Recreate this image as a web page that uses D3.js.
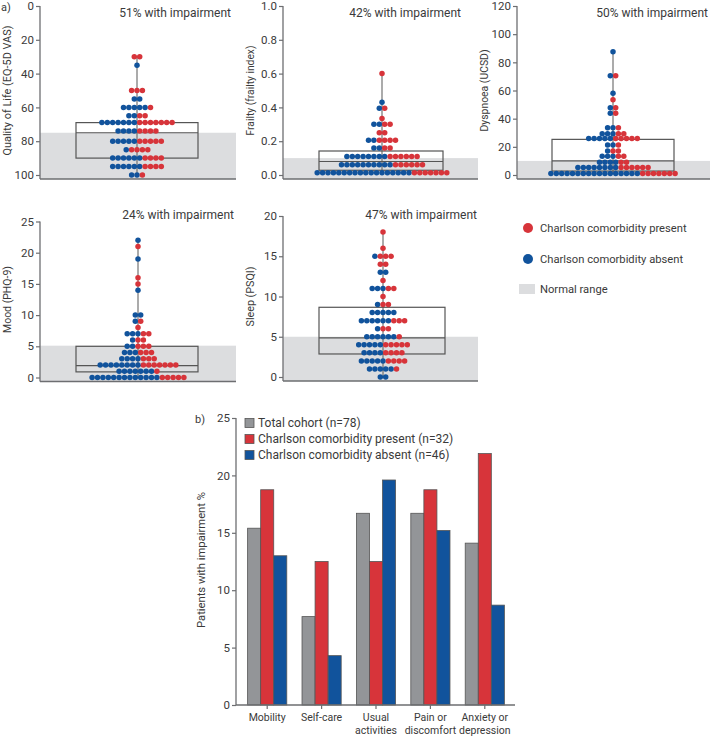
<!DOCTYPE html>
<html><head><meta charset="utf-8">
<script src="https://cdn.jsdelivr.net/npm/d3@7"></script>
<style>
body{margin:0;background:#fff;}
text{font-family:Roboto,"DejaVu Sans",sans-serif;}
</style>
</head><body>
<svg id="c" width="710" height="736"></svg>
<script>
// ---------- Data (a) beeswarm rows: value, count absent (blue), count present (red)
const qolRows  = [30,35,50,55,60,65,69,74,80,85,90,95,100];
const qolBlue  = [0,1,0,2,5,2,7,4,5,1,6,6,2];
const qolRed   = [2,0,3,0,1,2,7,4,5,4,4,4,1];
const qolBox   = [69,75,90];
const qolNormal = [75,100];

const frailRows = [0.013,0.06,0.11,0.16,0.205,0.25,0.30,0.335,0.395,0.43,0.60];
const frailBlue = [18,10,8,2,2,0,2,0,1,1,0];
const frailRed  = [7,6,6,2,4,2,2,1,1,0,1];
const frailBox  = [0.028,0.08,0.142];
const frailNormal = [0,0.1];

const dysRows = [1,5.4,9,13.3,17,21.3,26,29.3,33.6,43.8,47.8,53.5,58,70.5,87.5];
const dysBlue = [17,8,4,3,1,2,5,3,2,1,1,0,1,1,1];
const dysRed  = [7,6,2,2,2,1,5,2,1,1,1,1,0,1,0];
const dysBox  = [2.8,10,25.3];
const dysNormal = [0,10];

const moodRows = [0,1,2,3,4,5,6,7,8,9,10,14,15,16,19,21,22];
const moodBlue = [13,7,8,4,3,2,1,3,0,1,2,1,0,0,1,0,1];
const moodRed  = [5,1,7,3,3,3,2,2,1,1,0,0,1,1,0,1,0];
const moodBox  = [0.9,1.9,5.0];
const moodNormal = [0,5.1];

const sleepRows = [0,1,2,3,4,5,6,7,8,9,10,11,12,13,14,15,16,18];
const sleepBlue = [2,5,5,4,5,6,1,6,5,1,0,3,0,2,0,1,0,0];
const sleepRed  = [0,1,4,4,5,1,2,3,0,2,1,2,1,0,2,3,1,1];
const sleepBox  = [2.86,4.85,8.66];
const sleepNormal = [0,5];

const panelLabels = ["Quality of Life (EQ-5D VAS)","Frailty (frailty index)","Dyspnoea (UCSD)","Mood (PHQ-9)","Sleep (PSQI)"];
const panelPct = ["51% with impairment","42% with impairment","50% with impairment","24% with impairment","47% with impairment"];
const qolTicks = [0,20,40,60,80,100];
const frailTicks = [0,0.2,0.4,0.6,0.8,1.0];
const dysTicks = [0,20,40,60,80,100,120];
const moodTicks = [0,5,10,15,20,25];
const sleepTicks = [0,5,10,15,20];

// ---------- Data (b)
const categories = ["Mobility","Self-care","Usual activities","Pain or discomfort","Anxiety or depression"];
const categoryLines = [["Mobility"],["Self-care"],["Usual","activities"],["Pain or","discomfort"],["Anxiety or","depression"]];
const seriesNames = ["Total cohort (n=78)","Charlson comorbidity present (n=32)","Charlson comorbidity absent (n=46)"];
const totalCohort   = [15.4,7.7,16.7,16.7,14.1];
const comorbPresent = [18.75,12.5,12.5,18.75,21.9];
const comorbAbsent  = [13.0,4.3,19.6,15.2,8.7];
const barTicks = [0,5,10,15,20,25];

// ---------- Styles
const RED = "#d7343a", BLUE = "#11539c", GREY = "#939598", BAND = "#dcdddf";
const AX = "#6d6e71", TXT = "#3a3a3a";

const svg = d3.select("#c");

const panels = [
  {rows:qolRows, blue:qolBlue, red:qolRed, box:qolBox, normal:qolNormal, ticks:qolTicks, fmt:d3.format("d"),
   domain:[0,100], range:[6,175], ax:40, right:236, bottom:179, cx:137, boxL:76, boxR:198, pctX:231, pctY:17, labLen:130},
  {rows:frailRows, blue:frailBlue, red:frailRed, box:frailBox, normal:frailNormal, ticks:frailTicks, fmt:d3.format(".1f"),
   domain:[0,1], range:[175,6], ax:283, right:478, bottom:179, cx:382, boxL:319, boxR:443, pctX:461, pctY:17, labLen:90},
  {rows:dysRows, blue:dysBlue, red:dysRed, box:dysBox, normal:dysNormal, ticks:dysTicks, fmt:d3.format("d"),
   domain:[0,120], range:[175,6], ax:517, right:710, bottom:179, cx:613, boxL:552, boxR:674, pctX:708, pctY:17, labLen:82},
  {rows:moodRows, blue:moodBlue, red:moodRed, box:moodBox, normal:moodNormal, ticks:moodTicks, fmt:d3.format("d"),
   domain:[0,25], range:[377.5,221.5], ax:40, right:236, bottom:381.5, cx:138, boxL:76, boxR:198, pctX:234, pctY:219, labLen:67},
  {rows:sleepRows, blue:sleepBlue, red:sleepRed, box:sleepBox, normal:sleepNormal, ticks:sleepTicks, fmt:d3.format("d"),
   domain:[0,20], range:[377,216], ax:283, right:478, bottom:381, cx:383, boxL:319, boxR:445, pctX:477, pctY:219, labLen:60}
];

const STEP = 5.4, R = 2.75;

panels.forEach((p, pi) => {
  const y = d3.scaleLinear().domain(p.domain).range(p.range);
  const g = svg.append("g");
  const reversed = p.range[0] < p.range[1];
  // normal band
  const bandTop = reversed ? y(p.normal[0]) : y(p.normal[1]);
  g.append("rect").attr("x", p.ax).attr("y", bandTop)
    .attr("width", p.right - p.ax).attr("height", p.bottom - bandTop).attr("fill", BAND);
  // whisker line
  const vmin = d3.min(p.rows), vmax = d3.max(p.rows);
  g.append("line").attr("x1", p.cx).attr("x2", p.cx).attr("y1", y(vmin)).attr("y2", y(vmax))
    .attr("stroke", "#666").attr("stroke-width", 1.1);
  // box
  const yb = p.box.map(y);
  g.append("rect").attr("x", p.boxL).attr("width", p.boxR - p.boxL)
    .attr("y", d3.min([yb[0], yb[2]])).attr("height", Math.abs(yb[2] - yb[0]))
    .attr("fill", "none").attr("stroke", "#555").attr("stroke-width", 1.2);
  g.append("line").attr("x1", p.boxL).attr("x2", p.boxR).attr("y1", yb[1]).attr("y2", yb[1])
    .attr("stroke", "#555").attr("stroke-width", 1.2);
  // dots
  const dots = [];
  p.rows.forEach((v, i) => {
    const n = p.blue[i] + p.red[i];
    for (let k = 0; k < n; k++) {
      dots.push({v: v, off: (k - (n - 1) / 2) * STEP, c: k < p.blue[i] ? BLUE : RED});
    }
  });
  g.selectAll("circle.d").data(dots).join("circle").attr("class", "d")
    .attr("cx", d => p.cx + d.off).attr("cy", d => y(d.v)).attr("r", R).attr("fill", d => d.c);
  // y axis
  const axis = g.append("g").attr("transform", `translate(${p.ax},0)`)
    .call(d3.axisLeft(y).tickValues(p.ticks).tickFormat(p.fmt).tickSize(4).tickPadding(2));
  axis.select(".domain").remove();
  axis.selectAll(".tick line").attr("stroke", AX).attr("stroke-width", 1.2);
  axis.selectAll(".tick text").attr("fill", TXT).style("font-size", "11.5px").style("font-family", "Roboto");
  const yTopAxis = d3.min(p.range);
  g.append("line").attr("x1", p.ax).attr("x2", p.ax).attr("y1", yTopAxis).attr("y2", p.bottom)
    .attr("stroke", AX).attr("stroke-width", 1.3);
  g.append("line").attr("x1", p.ax).attr("x2", p.right).attr("y1", p.bottom).attr("y2", p.bottom)
    .attr("stroke", AX).attr("stroke-width", 1.3);
  // label
  const midY = (p.range[0] + p.range[1]) / 2;
  g.append("text").attr("transform", `translate(${p.ax - 29},${midY}) rotate(-90)`)
    .attr("text-anchor", "middle").attr("fill", TXT).style("font-size", "11px")
    .attr("textLength", p.labLen).attr("lengthAdjust", "spacingAndGlyphs").text(panelLabels[pi]);
  g.append("text").attr("x", p.pctX).attr("y", p.pctY).attr("text-anchor", "end")
    .attr("fill", TXT).style("font-size", "12px").text(panelPct[pi]);
});

// panel letters
svg.append("text").attr("x", 1).attr("y", 11).attr("fill", TXT).style("font-size", "11px").text("a)");
svg.append("text").attr("x", 195).attr("y", 423).attr("fill", TXT).style("font-size", "11px").text("b)");

// legend (a)
const legA = svg.append("g");
[["Charlson comorbidity present", RED, 228], ["Charlson comorbidity absent", BLUE, 259]].forEach(d => {
  legA.append("circle").attr("cx", 528).attr("cy", d[2]).attr("r", 5).attr("fill", d[1]);
  legA.append("text").attr("x", 540).attr("y", d[2] + 4).attr("fill", TXT).style("font-size", "11.2px").text(d[0]);
});
legA.append("rect").attr("x", 519).attr("y", 284).attr("width", 16).attr("height", 10).attr("fill", BAND);
legA.append("text").attr("x", 540).attr("y", 293).attr("fill", TXT).style("font-size", "11.2px").text("Normal range");

// ---------- (b) grouped bar chart
const by = d3.scaleLinear().domain([0, 25]).range([705, 418]);
const bx = d3.scaleBand().domain(categories).range([240, 512]).paddingInner(0.28).paddingOuter(0.14);
const seriesVals = [totalCohort, comorbPresent, comorbAbsent];
const seriesCols = [GREY, RED, BLUE];
const bs = d3.scaleBand().domain([0, 1, 2]).range([0, bx.bandwidth()]);
const gb = svg.append("g");
seriesVals.forEach((vals, si) => {
  gb.selectAll(`rect.s${si}`).data(categories).join("rect").attr("class", `s${si}`)
    .attr("x", c => bx(c) + bs(si)).attr("width", bs.bandwidth())
    .attr("y", (c, i) => by(vals[i])).attr("height", (c, i) => by(0) - by(vals[i]))
    .attr("fill", seriesCols[si]).attr("stroke", "#555").attr("stroke-width", 0.8);
});
const byAxis = gb.append("g").attr("transform", "translate(236,0)")
  .call(d3.axisLeft(by).tickValues(barTicks).tickSize(4).tickPadding(2));
byAxis.select(".domain").attr("stroke", AX).attr("stroke-width", 1.3).attr("d", "M0,418V705");
byAxis.selectAll(".tick line").attr("stroke", AX).attr("stroke-width", 1.2);
byAxis.selectAll(".tick text").attr("fill", TXT).style("font-size", "11.5px").style("font-family", "Roboto");
gb.append("line").attr("x1", 236).attr("x2", 515).attr("y1", 705).attr("y2", 705).attr("stroke", AX).attr("stroke-width", 1.3);
categories.forEach((c, i) => {
  const cx = bx(c) + bx.bandwidth() / 2;
  gb.append("line").attr("x1", cx).attr("x2", cx).attr("y1", 705).attr("y2", 709).attr("stroke", AX).attr("stroke-width", 1.2);
  const t = gb.append("text").attr("x", cx).attr("y", 721).attr("text-anchor", "middle").attr("fill", TXT).style("font-size", "10.5px");
  categoryLines[i].forEach((ln, li) => t.append("tspan").attr("x", cx).attr("dy", li === 0 ? 0 : 12.5).text(ln));
});
gb.append("text").attr("transform", "translate(205,560) rotate(-90)").attr("text-anchor", "middle")
  .attr("fill", TXT).style("font-size", "11.5px").attr("textLength", 136).attr("lengthAdjust", "spacingAndGlyphs")
  .text("Patients with impairment %");
// legend (b)
seriesNames.forEach((n, i) => {
  const yy = 423 + i * 16;
  gb.append("rect").attr("x", 245).attr("y", yy - 4.5).attr("width", 9).attr("height", 9)
    .attr("fill", seriesCols[i]).attr("stroke", "#555").attr("stroke-width", 0.8);
  gb.append("text").attr("x", 258).attr("y", yy + 4.2).attr("fill", TXT).style("font-size", "12px").text(n);
});
</script>
</body></html>
